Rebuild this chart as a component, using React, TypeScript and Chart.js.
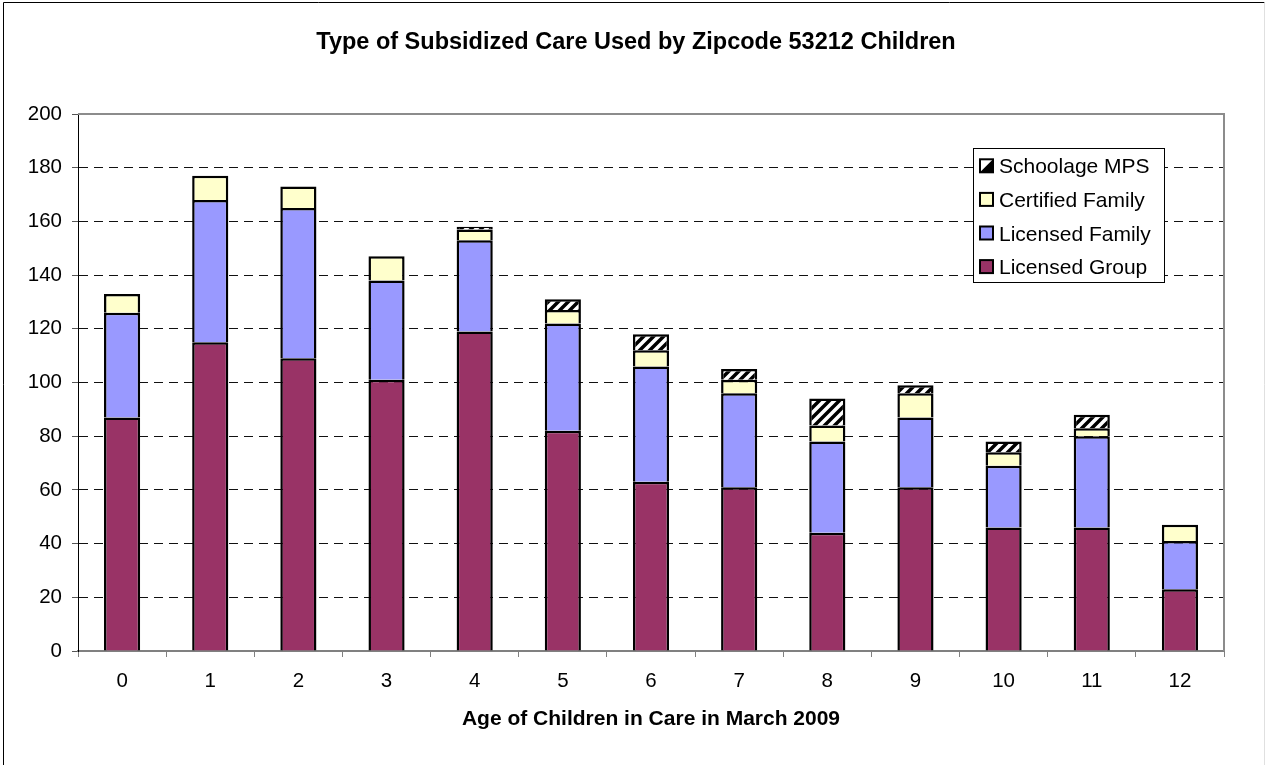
import React, { useEffect, useRef } from "react";
import { Chart, registerables } from "chart.js";

Chart.register(...registerables);

const ages = ["0", "1", "2", "3", "4", "5", "6", "7", "8", "9", "10", "11", "12"];
const licensedGroup = [87, 115, 109, 101, 119, 82, 63, 61, 44, 61, 46, 46, 23];
const licensedFamily = [39, 53, 56, 37, 34, 40, 43, 35, 34, 26, 23, 34, 18];
const certifiedFamily = [7, 9, 8, 9, 4, 5, 6, 5, 6, 9, 5, 3, 6];
const schoolageMPS = [0, 0, 0, 0, 1, 4, 6, 4, 10, 3, 4, 5, 0];
const yTickValues = [0, 20, 40, 60, 80, 100, 120, 140, 160, 180, 200];

const chartTitle = "Type of Subsidized Care Used by Zipcode 53212 Children";
const xAxisTitle = "Age of Children in Care in March 2009";

const FONT = "'Liberation Sans', Arial, sans-serif";

function makeHatch(ctx: CanvasRenderingContext2D): CanvasPattern | string {
  const c = document.createElement("canvas");
  c.width = 10;
  c.height = 10;
  const g = c.getContext("2d");
  if (!g) return "#fff";
  g.fillStyle = "#fff";
  g.fillRect(0, 0, 10, 10);
  g.strokeStyle = "#000";
  g.lineWidth = 3.5;
  g.beginPath();
  g.moveTo(-5, 5);
  g.lineTo(5, -5);
  g.moveTo(0, 10);
  g.lineTo(10, 0);
  g.moveTo(5, 15);
  g.lineTo(15, 5);
  g.stroke();
  return ctx.createPattern(c, "repeat") || "#fff";
}

const decorPlugin = {
  id: "decor",
  afterDraw(chart: any) {
    const ctx: CanvasRenderingContext2D = chart.ctx;
    const { left, right, top, bottom } = chart.chartArea;
    ctx.save();
    // outer frame
    ctx.strokeStyle = "#000";
    ctx.lineWidth = 1;
    ctx.beginPath();
    ctx.moveTo(3.5, 780);
    ctx.lineTo(3.5, 2.5);
    ctx.lineTo(1264.5, 2.5);
    ctx.stroke();
    ctx.strokeStyle = "#e0e0e0";
    ctx.beginPath();
    ctx.moveTo(1264.5, 2.5);
    ctx.lineTo(1264.5, 780);
    ctx.stroke();

    // plot area top/right border
    ctx.strokeStyle = "#8c8c8c";
    ctx.lineWidth = 2;
    ctx.beginPath();
    ctx.moveTo(left, top);
    ctx.lineTo(right, top);
    ctx.lineTo(right, bottom);
    ctx.stroke();

    // title
    ctx.fillStyle = "#000";
    ctx.textAlign = "center";
    ctx.textBaseline = "alphabetic";
    ctx.font = `bold 23.5px ${FONT}`;
    ctx.fillText(chartTitle, 636, 48.5);

    // x axis title
    ctx.font = `bold 21px ${FONT}`;
    ctx.fillText(xAxisTitle, (left + right) / 2, 725);

    // legend
    const lx = 973.5, ly = 148.5, lw = 191, lh = 134;
    ctx.fillStyle = "#fff";
    ctx.fillRect(lx, ly, lw, lh);
    ctx.strokeStyle = "#000";
    ctx.lineWidth = 1;
    ctx.strokeRect(lx, ly, lw, lh);
    const ds = [...chart.data.datasets].reverse();
    ctx.font = `21px ${FONT}`;
    ctx.textAlign = "left";
    ds.forEach((d: any, i: number) => {
      const base = 173.3 + i * 33.6;
      const sy = base - 14;
      const sx = 980;
      const s = 13;
      if (typeof d.backgroundColor !== "string") {
        ctx.fillStyle = "#fff";
        ctx.fillRect(sx, sy, s, s);
        ctx.fillStyle = "#000";
        ctx.beginPath();
        ctx.moveTo(sx, sy + s);
        ctx.lineTo(sx + s, sy);
        ctx.lineTo(sx + s, sy + s);
        ctx.closePath();
        ctx.fill();
      } else {
        ctx.fillStyle = d.backgroundColor;
        ctx.fillRect(sx, sy, s, s);
      }
      ctx.strokeStyle = "#000";
      ctx.lineWidth = 2;
      ctx.strokeRect(sx, sy, s, s);
      ctx.fillStyle = "#000";
      ctx.fillText(d.label, 999, base);
    });
    ctx.restore();
  },
};

export default function App() {
  const ref = useRef<HTMLCanvasElement | null>(null);

  useEffect(() => {
    const canvas = ref.current;
    if (!canvas) return;
    const ctx = canvas.getContext("2d");
    if (!ctx) return;
    const hatch = makeHatch(ctx);

    const common = {
      borderColor: "#000",
      borderWidth: 2.5,
      borderSkipped: "start" as const,
      barPercentage: 0.41,
      categoryPercentage: 1,
    };

    const chart = new Chart(ctx, {
      type: "bar",
      data: {
        labels: ages,
        datasets: [
          { label: "Licensed Group", data: licensedGroup, backgroundColor: "#993366", ...common },
          { label: "Licensed Family", data: licensedFamily, backgroundColor: "#9999FF", ...common },
          { label: "Certified Family", data: certifiedFamily, backgroundColor: "#FFFFCC", ...common },
          { label: "Schoolage MPS", data: schoolageMPS, backgroundColor: hatch as any, ...common },
        ],
      },
      options: {
        responsive: false,
        animation: false,
        events: [],
        layout: { padding: { top: 114, right: 42, left: 0, bottom: 0 } },
        plugins: {
          legend: { display: false },
          title: { display: false },
          tooltip: { enabled: false },
        },
        scales: {
          x: {
            stacked: true,
            offset: true,
            afterFit: (s: any) => {
              s.height = 114;
            },
            grid: {
              display: true,
              drawOnChartArea: false,
              drawTicks: true,
              tickLength: 6,
              tickColor: "#808080",
              tickWidth: 1,
              offset: true,
            },
            border: { display: true, color: "#808080", width: 2 },
            ticks: {
              color: "#000",
              font: { family: FONT, size: 20.5 },
              padding: 12,
              maxRotation: 0,
              autoSkip: false,
            },
          },
          y: {
            stacked: true,
            min: 0,
            max: 200,
            afterFit: (s: any) => {
              s.width = 78;
            },
            afterBuildTicks: (s: any) => {
              s.ticks = yTickValues.map((v) => ({ value: v }));
            },
            grid: {
              color: "#111",
              lineWidth: 1,
              drawTicks: true,
              tickLength: 6,
              tickColor: "#555",
              tickWidth: 1,
              tickBorderDash: [],
            },
            border: { display: true, color: "#000", width: 1, dash: [9, 6] },
            ticks: {
              color: "#000",
              font: { family: FONT, size: 20.5 },
              padding: 10,
            },
          },
        },
      },
      plugins: [decorPlugin],
    });

    return () => {
      chart.destroy();
    };
  }, []);

  return (
    <div style={{ position: "absolute", left: 0, top: 0, width: 1266, height: 765, background: "#fff" }}>
      <canvas ref={ref} width={1266} height={765} style={{ display: "block" }} />
    </div>
  );
}
